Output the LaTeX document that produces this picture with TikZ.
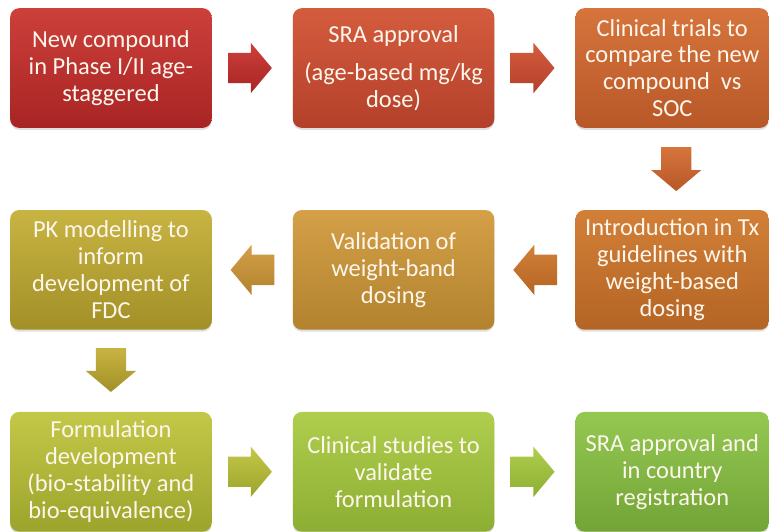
\documentclass[tikz,border=0pt]{standalone}
\usepackage{fontspec}
\setmainfont{Carlito}
\usepackage{xcolor}
\usepackage{tikz}
\usetikzlibrary{positioning, shapes.arrows, calc, shadows}
\definecolor{txt}{RGB}{253,246,236}
\definecolor{c1}{RGB}{204,64,58}   \definecolor{c1d}{RGB}{168,36,36}
\definecolor{c2}{RGB}{212,92,62}   \definecolor{c2d}{RGB}{180,64,42}
\definecolor{c3}{RGB}{214,116,60}  \definecolor{c3d}{RGB}{184,88,40}
\definecolor{c6}{RGB}{210,128,56}  \definecolor{c6d}{RGB}{180,100,36}
\definecolor{c5}{RGB}{212,160,72}  \definecolor{c5d}{RGB}{178,130,46}
\definecolor{c4}{RGB}{200,180,66}  \definecolor{c4d}{RGB}{162,144,40}
\definecolor{c7}{RGB}{196,200,72}  \definecolor{c7d}{RGB}{156,164,44}
\definecolor{c8}{RGB}{176,206,78}  \definecolor{c8d}{RGB}{140,174,50}
\definecolor{c9}{RGB}{148,200,82}  \definecolor{c9d}{RGB}{114,164,54}
\tikzset{
  box/.style  ={rounded corners=9pt, align=center, inner sep=1pt,
                minimum width=202pt, minimum height=120pt, text=txt,
                font=\fontsize{24.5}{27}\selectfont,
                drop shadow={opacity=0.25, shadow xshift=0pt, shadow yshift=-2pt}},
  nbox/.style ={box, minimum width=194pt},
  paint/.style 2 args={top color=#1, bottom color=#2},
  blk/.style  ={single arrow, minimum height=44pt,
                single arrow head extend=10pt, single arrow tip angle=100},
  rarr/.style ={blk, inner xsep=0pt, inner ysep=15pt},
  larr/.style ={blk, inner xsep=0pt, inner ysep=15pt, shape border rotate=180},
  darr/.style ={blk, inner xsep=15pt, inner ysep=0pt, shape border rotate=270},
}
\begin{document}
\begin{tikzpicture}[node distance=81pt]
  % top row
  \node[box, paint={c1}{c1d}] (new) {New compound\\in Phase I/II age-\\staggered};
  \node[box, paint={c2}{c2d}, right=of new] (sra) {SRA approval\\[11pt](age-based mg/kg\\dose)};
  \node[nbox, paint={c3}{c3d}, right=of sra] (trial) {Clinical trials to\\compare the new\\compound\ \ vs\\SOC};
  % middle row
  \node[nbox, paint={c6}{c6d}, below=82pt of trial] (intro) {Introduction in Tx\\guidelines with\\weight-based\\dosing};
  \node[box, paint={c5}{c5d}, left=of intro] (valid) {Validation of\\weight-band\\dosing};
  \node[box, paint={c4}{c4d}, left=of valid] (pk) {PK modelling to\\inform\\development of\\FDC};
  % bottom row
  \node[box, paint={c7}{c7d}, below=82pt of pk] (form) {Formulation\\development\\(bio-stability and\\bio-equivalence)};
  \node[box, paint={c8}{c8d}, right=of form] (study) {Clinical studies to\\validate\\formulation};
  \node[nbox, paint={c9}{c9d}, right=of study] (reg) {SRA approval and\\in country\\registration};
  % block arrows
  \node[rarr, paint={c1}{c1d}, right=16pt of new] (a1) {};
  \node[rarr, paint={c2}{c2d}, right=16pt of sra] (a2) {};
  \node[darr, paint={c3}{c3d}, below=19pt of trial, xshift=4pt] (a3) {};
  \node[larr, paint={c6}{c6d}, left=18pt of intro] (a4) {};
  \node[larr, paint={c5}{c5d}, left=18pt of valid] (a5) {};
  \node[darr, paint={c4}{c4d}, below=18pt of pk] (a6) {};
  \node[rarr, paint={c7}{c7d}, right=16pt of form] (a7) {};
  \node[rarr, paint={c8}{c8d}, right=16pt of study] (a8) {};
  \useasboundingbox ($(new.north west)+(-10pt,8pt)$) rectangle +(769pt,-533pt);
\end{tikzpicture}
\end{document}
